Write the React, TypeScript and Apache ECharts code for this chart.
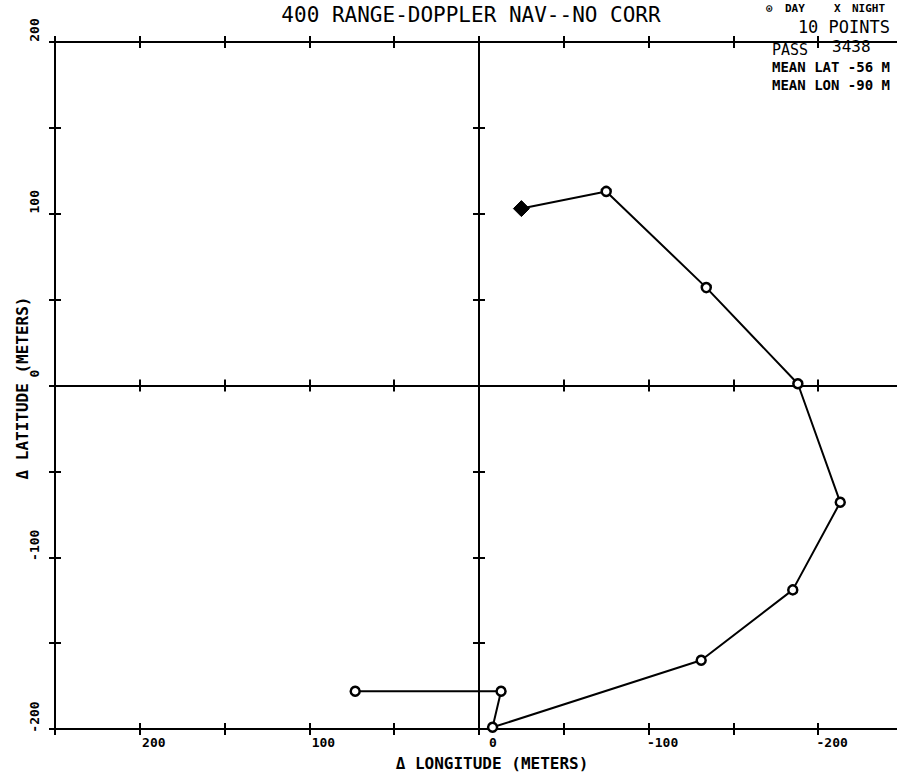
import React, { useEffect, useRef } from "react";
import * as echarts from "echarts";

// Δ longitude (m) and Δ latitude (m) of the 10 fixes, in plotting order
const lonValues = [73, -13, -8, -131, -185, -213, -188, -134, -75, -25];
const latValues = [-178, -178, -199, -160, -119, -68, 1, 57, 113, 103];
const markerTypes = ["circle", "circle", "circle", "circle", "circle", "circle", "circle", "circle", "circle", "diamond"];

const xRange = [-250, 250];
const yRange = [-200, 200];
const tickStep = 50;
const labelStep = 100;

const titleText = "400 RANGE-DOPPLER NAV--NO CORR";
const legendParts = ["⊙", "DAY", "X", "NIGHT"];
const pointsText = "10 POINTS";
const passLabel = "PASS";
const passNumber = "3438";
const meanLatText = "MEAN LAT -56 M";
const meanLonText = "MEAN LON -90 M";
const xName = "Δ LONGITUDE (METERS)";
const yName = "Δ LATITUDE (METERS)";

const FONT = "DejaVu Sans Mono";

export default function App() {
  const ref = useRef<HTMLDivElement>(null);

  useEffect(() => {
    if (!ref.current) return;
    const chart = echarts.init(ref.current, null, { renderer: "svg" });

    const labelFmt = (v: number) =>
      Math.abs(v) <= 200 && v % labelStep === 0 ? String(v) : "";

    const mkX = (opts: {
      position: "top" | "bottom";
      inside: boolean;
      onZero: boolean;
      line: boolean;
      label: boolean;
    }) => ({
      type: "value",
      position: opts.position,
      min: xRange[0],
      max: xRange[1],
      interval: tickStep,
      inverse: true,
      splitLine: { show: false },
      axisLine: {
        show: opts.line,
        onZero: opts.onZero,
        lineStyle: { color: "#000", width: 2 },
      },
      axisTick: {
        show: true,
        inside: opts.inside,
        length: 6,
        lineStyle: { color: "#000", width: 2 },
      },
      axisLabel: {
        show: opts.label,
        formatter: labelFmt,
        color: "#000",
        fontFamily: FONT,
        fontWeight: "bold",
        fontSize: 13,
        margin: 7,
        padding: [0, 0, 0, 28],
      },
    });

    const mkY = (opts: {
      position: "left" | "right";
      inside: boolean;
      onZero: boolean;
      line: boolean;
      label: boolean;
    }) => ({
      type: "value",
      position: opts.position,
      min: yRange[0],
      max: yRange[1],
      interval: tickStep,
      splitLine: { show: false },
      axisLine: {
        show: opts.line,
        onZero: opts.onZero,
        lineStyle: { color: "#000", width: 2 },
      },
      axisTick: {
        show: true,
        inside: opts.inside,
        length: 6,
        lineStyle: { color: "#000", width: 2 },
      },
      axisLabel: {
        show: opts.label,
        formatter: labelFmt,
        color: "#000",
        fontFamily: FONT,
        fontWeight: "bold",
        fontSize: 13,
        rotate: 90,
        margin: 14,
        padding: [0, 0, 0, 24],
      },
    });

    const data = lonValues.map((x, i) => {
      const isDiamond = markerTypes[i] === "diamond";
      return {
        value: [x, latValues[i]],
        symbol: markerTypes[i],
        symbolSize: isDiamond ? 16 : 9,
        itemStyle: isDiamond
          ? { color: "#000", borderColor: "#000", borderWidth: 1 }
          : { color: "#fff", borderColor: "#000", borderWidth: 2.5 },
      };
    });

    const txt = (text: string, x: number, y: number, font: string, align = "left") => ({
      type: "text",
      x,
      y,
      style: { text, font, fill: "#000", align, verticalAlign: "middle" },
    });

    const legendX = [766, 785, 834, 852];

    chart.setOption({
      animation: false,
      backgroundColor: "#fff",
      grid: { left: 55, right: 0, top: 42, bottom: 46, containLabel: false },
      xAxis: [
        mkX({ position: "bottom", inside: true, onZero: false, line: true, label: true }),
        mkX({ position: "bottom", inside: false, onZero: false, line: false, label: false }),
        mkX({ position: "top", inside: true, onZero: false, line: true, label: false }),
        mkX({ position: "top", inside: false, onZero: false, line: false, label: false }),
        mkX({ position: "bottom", inside: true, onZero: true, line: true, label: false }),
        mkX({ position: "bottom", inside: false, onZero: true, line: false, label: false }),
      ],
      yAxis: [
        mkY({ position: "left", inside: true, onZero: false, line: true, label: true }),
        mkY({ position: "left", inside: false, onZero: false, line: false, label: false }),
        mkY({ position: "left", inside: true, onZero: true, line: true, label: false }),
        mkY({ position: "left", inside: false, onZero: true, line: false, label: false }),
      ],
      series: [
        {
          type: "line",
          xAxisIndex: 0,
          yAxisIndex: 0,
          data,
          lineStyle: { color: "#000", width: 2 },
          showAllSymbol: true,
          clip: false,
          z: 5,
        },
      ],
      graphic: [
        txt(titleText, 471, 15, `normal 21px "${FONT}"`, "center"),
        ...legendParts.map((p, i) => txt(p, legendX[i], 8, `bold 11px "${FONT}"`)),
        txt(pointsText, 890, 27, `normal 17px "${FONT}"`, "right"),
        txt(passLabel, 772, 50, `normal 15px "${FONT}"`),
        txt(passNumber, 832, 46, `normal 16px "${FONT}"`),
        txt(meanLatText, 772, 67, `bold 14px "${FONT}"`),
        txt(meanLonText, 772, 85, `bold 14px "${FONT}"`),
        txt(xName, 492, 763, `bold 16px "${FONT}"`, "center"),
        {
          type: "text",
          x: 22,
          y: 388,
          rotation: Math.PI / 2,
          style: {
            text: yName,
            font: `bold 16px "${FONT}"`,
            fill: "#000",
            align: "center",
            verticalAlign: "middle",
          },
        },
      ],
    });

    return () => chart.dispose();
  }, []);

  return (
    <div
      ref={ref}
      style={{ position: "fixed", left: 0, top: 0, width: 906, height: 775, background: "#fff" }}
    />
  );
}
